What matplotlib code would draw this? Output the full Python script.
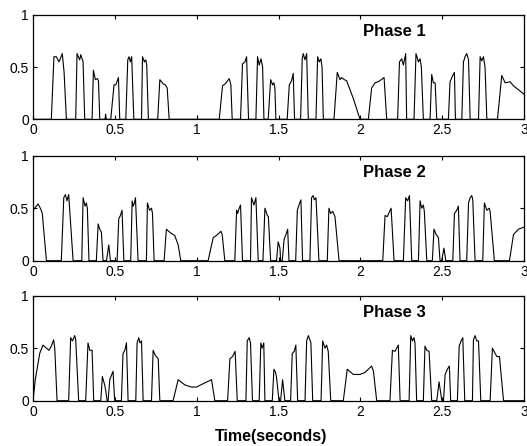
"""Three-panel envelope plot (Phase 1/2/3) in MATLAB-like style."""
import matplotlib

matplotlib.use("Agg")
import matplotlib.pyplot as plt

matplotlib.rcParams["font.family"] = ["Liberation Sans", "DejaVu Sans"]

# envelope vertices (time in s, amplitude)
phase1_pts = [
    (0.0, 0),
    (0.112, 0), (0.128, 0.60), (0.143, 0.60), (0.159, 0.55), (0.179, 0.63), (0.190, 0.45), (0.204, 0),
    (0.261, 0), (0.269, 0.63), (0.285, 0.57), (0.292, 0.62), (0.306, 0.55), (0.316, 0),
    (0.361, 0), (0.369, 0.47), (0.381, 0.38), (0.393, 0.39), (0.400, 0.37), (0.408, 0),
    (0.440, 0), (0.444, 0.05), (0.448, 0),
    (0.475, 0), (0.495, 0.33), (0.506, 0.33), (0.522, 0.40), (0.530, 0),
    (0.567, 0), (0.579, 0.57), (0.587, 0.60), (0.595, 0.55), (0.603, 0.60), (0.616, 0),
    (0.663, 0), (0.669, 0.60), (0.681, 0.55), (0.689, 0.57), (0.695, 0.52), (0.705, 0),
    (0.762, 0), (0.775, 0.38), (0.795, 0.34), (0.809, 0.33), (0.820, 0.30), (0.832, 0),
    (1.138, 0), (1.158, 0.32), (1.174, 0.34), (1.199, 0.39), (1.209, 0.33), (1.217, 0),
    (1.268, 0), (1.280, 0.53), (1.295, 0.55), (1.305, 0.60), (1.317, 0),
    (1.362, 0), (1.372, 0.60), (1.382, 0.52), (1.393, 0.58), (1.403, 0.50), (1.411, 0),
    (1.437, 0), (1.452, 0.38), (1.464, 0.33), (1.472, 0.35), (1.478, 0.30), (1.484, 0),
    (1.553, 0), (1.566, 0.33), (1.580, 0.37), (1.590, 0.44), (1.598, 0),
    (1.635, 0), (1.645, 0.58), (1.651, 0.63), (1.662, 0.57), (1.672, 0.63), (1.682, 0),
    (1.729, 0), (1.739, 0.60), (1.749, 0.55), (1.759, 0.58), (1.766, 0.50), (1.774, 0),
    (1.839, 0), (1.859, 0.45), (1.876, 0.38), (1.886, 0.40), (1.902, 0.38), (1.916, 0.37),
    (1.933, 0.30), (1.957, 0.20), (1.998, 0),
    (2.049, 0), (2.069, 0.30), (2.090, 0.35), (2.110, 0.36), (2.145, 0.40), (2.161, 0),
    (2.228, 0), (2.239, 0.55), (2.253, 0.58), (2.263, 0.52), (2.277, 0.63), (2.283, 0),
    (2.328, 0), (2.340, 0.63), (2.355, 0.55), (2.365, 0.58), (2.373, 0.50), (2.385, 0),
    (2.426, 0), (2.436, 0.43), (2.446, 0.35), (2.457, 0.35), (2.467, 0),
    (2.538, 0), (2.548, 0.36), (2.565, 0.42), (2.575, 0.45), (2.581, 0),
    (2.620, 0), (2.630, 0.55), (2.640, 0.60), (2.650, 0.63), (2.661, 0.57), (2.671, 0),
    (2.722, 0), (2.732, 0.60), (2.742, 0.56), (2.752, 0.60), (2.762, 0.50), (2.773, 0),
    (2.838, 0), (2.864, 0.42), (2.885, 0.35), (2.915, 0.36), (2.936, 0.32), (2.977, 0.27), (3.0, 0.24),
]

phase2_pts = [
    (0.0, 0.48), (0.031, 0.54), (0.045, 0.50), (0.057, 0.45), (0.065, 0.30), (0.082, 0),
    (0.173, 0), (0.188, 0.60), (0.198, 0.63), (0.208, 0.57), (0.218, 0.63), (0.245, 0),
    (0.298, 0), (0.306, 0.60), (0.318, 0.52), (0.326, 0.55), (0.332, 0.50), (0.342, 0),
    (0.387, 0), (0.398, 0.35), (0.408, 0.30), (0.418, 0.27), (0.428, 0),
    (0.449, 0), (0.463, 0.15), (0.473, 0),
    (0.514, 0), (0.524, 0.40), (0.534, 0.43), (0.544, 0.48), (0.555, 0),
    (0.597, 0), (0.606, 0.57), (0.612, 0.52), (0.620, 0.55), (0.626, 0.60), (0.642, 0),
    (0.693, 0), (0.699, 0.55), (0.712, 0.48), (0.724, 0.50), (0.730, 0.45), (0.740, 0),
    (0.801, 0), (0.815, 0.30), (0.836, 0.27), (0.866, 0.24), (0.887, 0.15), (0.903, 0),
    (1.070, 0), (1.101, 0.22), (1.121, 0.24), (1.148, 0.28), (1.156, 0.25), (1.172, 0),
    (1.233, 0), (1.244, 0.48), (1.250, 0.45), (1.260, 0.50), (1.268, 0.53), (1.280, 0),
    (1.329, 0), (1.335, 0.60), (1.350, 0.53), (1.362, 0.60), (1.376, 0),
    (1.405, 0), (1.417, 0.50), (1.432, 0.43), (1.438, 0.42), (1.452, 0),
    (1.488, 0), (1.498, 0.18), (1.509, 0.12), (1.513, 0),
    (1.523, 0), (1.534, 0.20), (1.550, 0.27), (1.556, 0.30), (1.564, 0),
    (1.605, 0), (1.615, 0.48), (1.625, 0.53), (1.637, 0.58), (1.647, 0),
    (1.692, 0), (1.702, 0.60), (1.712, 0.62), (1.719, 0.58), (1.729, 0.60), (1.747, 0),
    (1.798, 0), (1.808, 0.50), (1.818, 0.45), (1.831, 0.47), (1.845, 0.42), (1.870, 0),
    (2.137, 0), (2.151, 0.43), (2.165, 0.42), (2.188, 0.50), (2.206, 0),
    (2.263, 0), (2.277, 0.60), (2.289, 0.57), (2.300, 0.62), (2.314, 0),
    (2.355, 0), (2.365, 0.57), (2.375, 0.50), (2.385, 0.53), (2.391, 0.47), (2.406, 0),
    (2.440, 0), (2.450, 0.30), (2.463, 0.25), (2.477, 0.22), (2.487, 0),
    (2.497, 0), (2.511, 0.12), (2.522, 0),
    (2.565, 0), (2.575, 0.45), (2.589, 0.48), (2.599, 0.52), (2.609, 0),
    (2.650, 0), (2.661, 0.55), (2.671, 0.60), (2.681, 0.62), (2.687, 0.58), (2.701, 0),
    (2.748, 0), (2.758, 0.55), (2.773, 0.48), (2.787, 0.50), (2.793, 0.47), (2.819, 0),
    (2.911, 0), (2.936, 0.25), (2.966, 0.30), (3.0, 0.32),
]

phase3_pts = [
    (0.0, 0), (0.014, 0.20), (0.041, 0.45), (0.061, 0.53), (0.082, 0.50), (0.098, 0.48),
    (0.112, 0.52), (0.126, 0.58), (0.133, 0.50), (0.147, 0),
    (0.218, 0), (0.230, 0.60), (0.241, 0.57), (0.255, 0.62), (0.261, 0.58), (0.279, 0),
    (0.322, 0), (0.336, 0.55), (0.347, 0.48), (0.361, 0.48), (0.371, 0),
    (0.414, 0), (0.424, 0.23), (0.438, 0.15), (0.444, 0.10), (0.453, 0),
    (0.459, 0), (0.469, 0.20), (0.489, 0.28), (0.499, 0),
    (0.540, 0), (0.550, 0.45), (0.561, 0.48), (0.571, 0.55), (0.581, 0),
    (0.628, 0), (0.636, 0.55), (0.646, 0.60), (0.654, 0.55), (0.663, 0.57), (0.673, 0),
    (0.724, 0), (0.734, 0.48), (0.748, 0.43), (0.765, 0.40), (0.775, 0),
    (0.856, 0), (0.887, 0.20), (0.928, 0.15), (0.968, 0.13), (0.999, 0.13), (1.050, 0.17),
    (1.091, 0.20), (1.111, 0),
    (1.189, 0), (1.203, 0.40), (1.219, 0.42), (1.235, 0.47), (1.248, 0),
    (1.301, 0), (1.309, 0.57), (1.321, 0.60), (1.329, 0.55), (1.341, 0),
    (1.382, 0), (1.392, 0.55), (1.400, 0.50), (1.410, 0.55), (1.417, 0),
    (1.462, 0), (1.472, 0.30), (1.482, 0.27), (1.488, 0.22), (1.503, 0),
    (1.513, 0), (1.525, 0.20), (1.539, 0),
    (1.574, 0), (1.584, 0.45), (1.596, 0.47), (1.606, 0.53), (1.617, 0),
    (1.662, 0), (1.672, 0.57), (1.682, 0.62), (1.692, 0.58), (1.698, 0.55), (1.709, 0),
    (1.760, 0), (1.770, 0.57), (1.784, 0.50), (1.794, 0.53), (1.804, 0.47), (1.819, 0),
    (1.896, 0), (1.920, 0.30), (1.957, 0.25), (1.998, 0.25), (2.029, 0.27), (2.069, 0.33),
    (2.080, 0.28), (2.100, 0),
    (2.181, 0), (2.196, 0.48), (2.212, 0.47), (2.232, 0.53), (2.243, 0),
    (2.298, 0), (2.308, 0.62), (2.318, 0.57), (2.328, 0.60), (2.334, 0.55), (2.344, 0),
    (2.385, 0), (2.395, 0.52), (2.406, 0.48), (2.420, 0.47), (2.436, 0),
    (2.467, 0), (2.481, 0.18), (2.498, 0),
    (2.508, 0), (2.518, 0.25), (2.532, 0.30), (2.544, 0.33), (2.552, 0),
    (2.593, 0), (2.604, 0.52), (2.616, 0.57), (2.626, 0.60), (2.638, 0),
    (2.685, 0), (2.691, 0.58), (2.701, 0.62), (2.711, 0.57), (2.722, 0.57), (2.736, 0),
    (2.793, 0), (2.807, 0.50), (2.824, 0.45), (2.834, 0.42), (2.850, 0.42), (2.875, 0),
    (3.0, 0),
]

phase_labels = ["Phase 1", "Phase 2", "Phase 3"]
x_ticks = [0, 0.5, 1, 1.5, 2, 2.5, 3]
x_tick_labels = ["0", "0.5", "1", "1.5", "2", "2.5", "3"]
y_ticks = [0, 0.5, 1]
y_tick_labels = ["0", "0.5", "1"]

W, H = 527, 446
fig = plt.figure(figsize=(W / 100, H / 100), dpi=100)

# axes boxes in pixels: (left, top, right, bottom)
boxes = [(33, 15, 524, 119.3), (33, 155.7, 524, 260.7), (33, 295.7, 524, 400.7)]

for (x0, y0, x1, y1), pts, label in zip(boxes, [phase1_pts, phase2_pts, phase3_pts], phase_labels):
    ax = fig.add_axes([x0 / W, 1 - y1 / H, (x1 - x0) / W, (y1 - y0) / H])
    t, v = zip(*pts)
    ax.plot(t, v, color="black", linewidth=0.8)
    ax.set_xlim(0, 3)
    ax.set_ylim(0, 1)
    ax.set_xticks(x_ticks)
    ax.set_xticklabels(x_tick_labels)
    ax.set_yticks(y_ticks)
    ax.set_yticklabels(y_tick_labels)
    ax.tick_params(direction="in", length=3, width=0.8, labelsize=10,
                   top=True, right=True, pad=3)
    for s in ax.spines.values():
        s.set_linewidth(0.9)
    ax.text(2.21, 0.84, label, fontsize=12, fontweight="bold", ha="center", va="center")

fig.text(271 / W, 1 - 437 / H, "Time(seconds)", fontsize=11.5, fontweight="bold",
         ha="center", va="center")

fig.savefig("out.png", dpi=100)
plt.close(fig)
